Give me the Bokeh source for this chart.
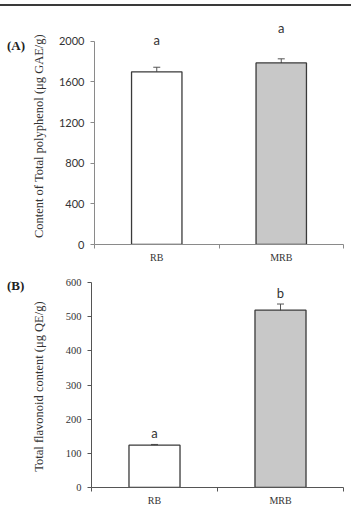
from bokeh.plotting import figure
from bokeh.models import (ColumnDataSource, Range1d, FixedTicker, Whisker, Div)
from bokeh.layouts import column, row
from bokeh.embed import file_html
from bokeh.resources import INLINE
from bokeh.core.properties import value

# ---- data ----
categories = ["RB", "MRB"]
polyphenol = [1700, 1788]
polyphenol_err = [45, 40]
polyphenol_letters = ["a", "a"]
flavonoid = [124, 519]
flavonoid_err = [2, 18]
flavonoid_letters = ["a", "b"]
polyphenol_ticks = [0, 400, 800, 1200, 1600, 2000]
flavonoid_ticks = [0, 100, 200, 300, 400, 500, 600]

SERIF = "Liberation Serif"
SANS = "Lato"
bar_fills = ["#ffffff", "#c8c8c8"]
TAG_W = 28          # width of the column holding the (A)/(B) tags
FRAME_LEFT = 91     # frame left edge on the page


def panel(vals, errs, letters, ticks, ymax, yend, height, top, bottom,
          ylabel, tick_font, tick_size, letter_offsets, axis_color, label_pad):
    xs = [i + 0.5 for i in range(len(categories))]
    src = ColumnDataSource(dict(
        x=xs, top=vals, err=errs,
        upper=[v + e for v, e in zip(vals, errs)],
        lower=[v - e for v, e in zip(vals, errs)],
        letter=letters, fill=bar_fills, yoff=letter_offsets))
    p = figure(width=351 - TAG_W, height=height, output_backend="svg",
               toolbar_location=None,
               x_range=Range1d(0, len(categories)), y_range=Range1d(0, yend),
               min_border_left=FRAME_LEFT - TAG_W, min_border_right=8,
               min_border_top=top, min_border_bottom=bottom)
    p.outline_line_color = None
    p.grid.grid_line_color = None
    p.background_fill_color = None
    p.border_fill_color = "white"

    p.vbar(x="x", top="top", bottom=0, width=0.405, source=src,
           fill_color="fill", line_color="#3a3a3a", line_width=1.3)
    w = Whisker(base="x", upper="upper", lower="lower", source=src,
                line_color="#555555", line_width=1)
    w.upper_head.size = 7
    w.lower_head.size = 7
    w.upper_head.line_color = "#555555"
    w.lower_head.line_color = "#555555"
    p.add_layout(w)
    p.text(x="x", y="upper", text="letter", source=src, y_offset="yoff",
           text_align="center", text_baseline="middle",
           text_font=value(SANS), text_font_size="13px", text_color="#333333")

    # y axis
    ya = p.yaxis[0]
    ya.bounds = (0, ymax)
    ya.ticker = FixedTicker(ticks=ticks)
    ya.minor_tick_line_color = None
    ya.major_tick_out = 4
    ya.major_tick_in = 0
    ya.major_label_standoff = 6
    ya.axis_line_color = axis_color
    ya.major_tick_line_color = axis_color
    ya.major_label_text_font = tick_font
    ya.major_label_text_font_size = tick_size
    ya.major_label_text_color = "#333333"
    ya.axis_label = ylabel
    ya.axis_label_text_font = SERIF
    ya.axis_label_text_font_style = "normal"
    ya.axis_label_text_font_size = "12.5px"
    ya.axis_label_text_color = "#333333"
    ya.axis_label_standoff = label_pad

    # x axis: labels at category centres, ticks at category boundaries
    xa = p.xaxis[0]
    xa.ticker = FixedTicker(ticks=xs,
                            minor_ticks=list(range(len(categories) + 1)))
    xa.major_label_overrides = {x: c for x, c in zip(xs, categories)}
    xa.major_tick_line_color = None
    xa.major_tick_out = 0
    xa.major_tick_in = 0
    xa.minor_tick_out = 4
    xa.minor_tick_in = 0
    xa.minor_tick_line_color = axis_color
    xa.axis_line_color = axis_color
    xa.major_label_standoff = 3
    xa.major_label_text_font = SERIF
    xa.major_label_text_font_size = "10px"
    xa.major_label_text_color = "#333333"
    return p


def tag(text, height, center_y):
    html = ('<div style="margin:%dpx 0 0 7px;font-family:\'%s\';font-weight:bold;'
            'font-size:13px;line-height:16px;color:#222">%s</div>'
            % (center_y - 8, SERIF, text))
    return Div(text=html, width=TAG_W, height=height, margin=0)


RULE_H = 6
rule = Div(text="", width=351, height=2, margin=(4, 0, 0, 0),
           styles={"background-color": "#3a3a3a"})

HA, HB = 265 - RULE_H, 243
pa = panel(polyphenol, polyphenol_err, polyphenol_letters, polyphenol_ticks,
           2000, 2000 * 222 / 205, HA, 24 - RULE_H, 19,
           "Content of Total  polyphenol (\u03bcg GAE/g)", SANS, "11px",
           [-27, -31], "#8a8a8a", 10)
pb = panel(flavonoid, flavonoid_err, flavonoid_letters, flavonoid_ticks,
           600, 600, HB, 17, 19,
           "Total  flavonoid content (\u03bcg QE/g)", SERIF, "10.5px",
           [-11, -11], "#555555", 17)

layout = column(rule,
                row(tag("(A)", HA, 46 - RULE_H), pa, spacing=0),
                row(tag("(B)", HB, 286 - 265), pb, spacing=0),
                spacing=0)
open("out.html", "w").write(file_html(layout, INLINE))
